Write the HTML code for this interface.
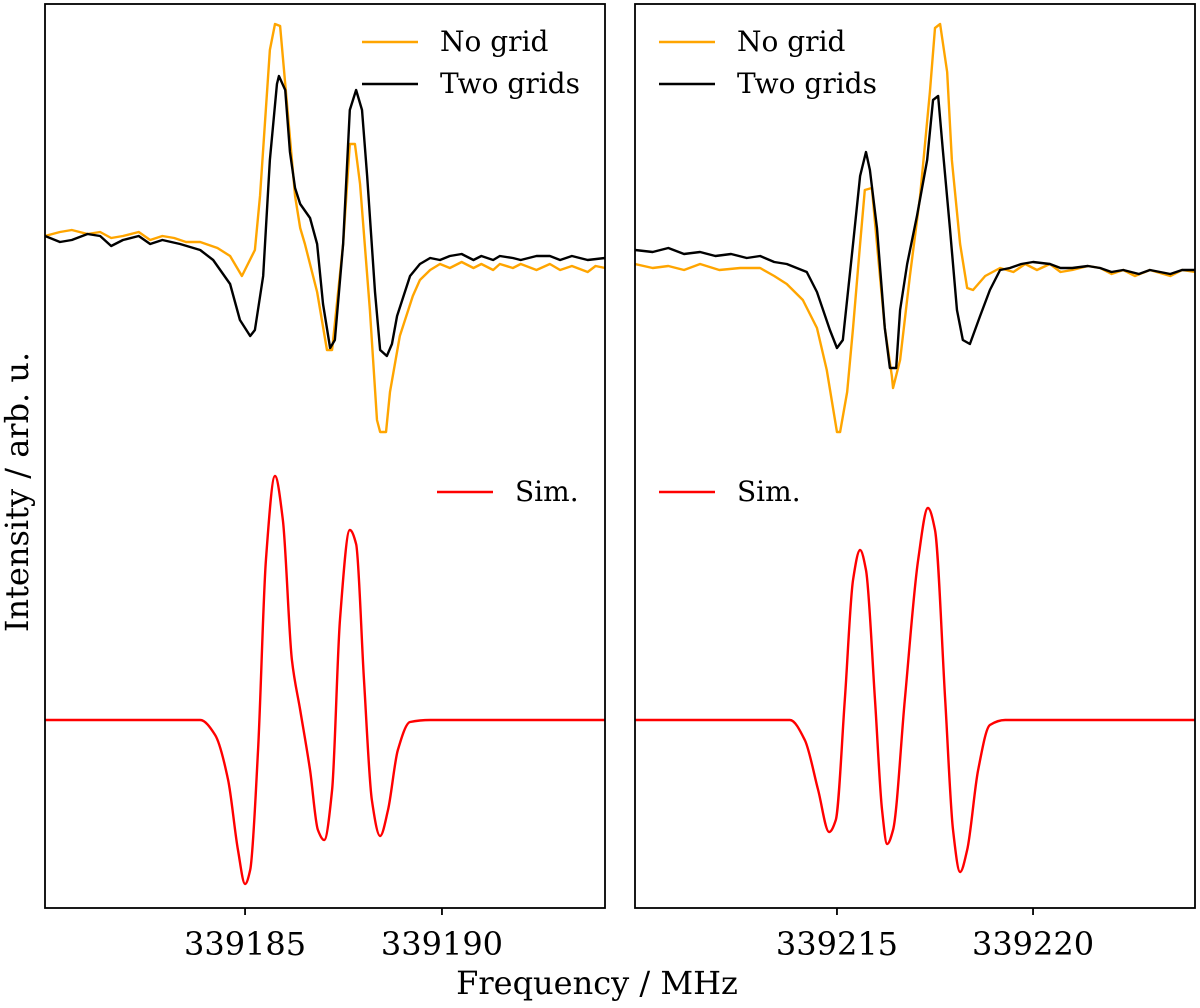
<!DOCTYPE html>
<html><head><meta charset="utf-8">
<style>
html,body{margin:0;padding:0;background:#fff;}
svg text{font-family:"DejaVu Serif","Liberation Serif",serif;fill:#000;}
</style></head>
<body>
<svg id="chart" width="1200" height="1003" viewBox="0 0 1200 1003" xmlns="http://www.w3.org/2000/svg">
<text x="0" y="0" font-size="32" text-anchor="middle" transform="translate(28,492) rotate(-90)">Intensity / arb. u.</text>
<text x="597" y="994" font-size="32" text-anchor="middle">Frequency / MHz</text>
<g id="panels"></g>
</svg>
<script>
// ---- data ----
const leftTicks = [339185, 339190];
const rightTicks = [339215, 339220];
const leftDomain = [339179.92, 339194.14];
const rightDomain = [339209.85, 339224.13];
const yDomain = [-47, 179];

const leftOrangeF = [339179.92,339180.3,339180.6,339181.0,339181.32,339181.6,339181.9,339182.3,339182.59,339182.9,339183.2,339183.5,339183.86,339184.3,339184.62,339184.92,339185.25,339185.38,339185.63,339185.76,339185.89,339186.02,339186.27,339186.40,339186.52,339186.83,339187.08,339187.21,339187.49,339187.66,339187.79,339187.92,339188.17,339188.35,339188.43,339188.58,339188.68,339188.93,339189.26,339189.44,339189.7,339189.95,339190.2,339190.5,339190.8,339191.0,339191.3,339191.47,339191.8,339192.0,339192.4,339192.74,339193.0,339193.3,339193.7,339193.9,339194.14];
const leftOrangeI = [121,122,122.5,121.5,122,120.5,121,122,120,121,120.5,119.5,119.5,118,116,111,117.5,131,167.5,174,173.5,159,131,123,119,107,92.5,92.5,119,144,144,134,102.5,75,72,72,82,96,106,110,112.5,114,113,114.5,113,114,112.5,114,113,114,112.5,114,112.5,113.5,112,113.5,113];

const leftBlackF = [339179.92,339180.3,339180.6,339181.0,339181.32,339181.6,339181.9,339182.3,339182.59,339182.9,339183.35,339183.86,339184.19,339184.62,339184.87,339185.13,339185.25,339185.46,339185.63,339185.81,339185.86,339186.02,339186.14,339186.27,339186.40,339186.65,339186.83,339186.98,339187.16,339187.28,339187.49,339187.66,339187.82,339187.97,339188.10,339188.30,339188.43,339188.60,339188.73,339188.86,339189.19,339189.44,339189.7,339189.95,339190.2,339190.5,339190.8,339191.0,339191.3,339191.47,339191.8,339192.0,339192.4,339192.74,339193.0,339193.3,339193.7,339194.14];
const leftBlackI = [121,119.5,120,121.5,121,118.5,120,121,119,120,119,117.5,115,109,100,96,97.5,111,140,159,161,157.5,142,133,129,125.5,119,104,93,95,119,152.5,157.5,152.5,136,107,92.5,91,94,101,111,114,115.5,115,116,116.5,115,116,115,116,115.5,115,116,116,115,116,115,115.5];

const rightOrangeF = [339209.85,339210.3,339210.7,339211.1,339211.51,339212.0,339212.53,339213.04,339213.4,339213.72,339214.13,339214.49,339214.74,339215.00,339215.08,339215.26,339215.41,339215.59,339215.71,339215.89,339216.02,339216.22,339216.40,339216.43,339216.61,339216.86,339217.12,339217.37,339217.50,339217.63,339217.81,339217.93,339218.14,339218.32,339218.47,339218.78,339219.16,339219.5,339219.8,339220.1,339220.43,339220.7,339221.0,339221.4,339221.71,339222.0,339222.3,339222.6,339222.98,339223.5,339223.8,339224.13];
const rightOrangeI = [114,113,113.5,112.5,114,112.5,113,113,111,109,105,98,87.5,72,72,82,98,119,132.5,133,119,98,86,83,90,111,131,157,173,174,162,140,119,108,107.5,111,113,112,114,112.5,114,112,112.5,113.5,113,111.5,112.5,111,112.5,111,112.5,112];

const rightBlackF = [339209.85,339210.3,339210.7,339211.1,339211.51,339211.9,339212.3,339212.7,339213.04,339213.4,339213.72,339214.23,339214.49,339214.82,339215.00,339215.15,339215.41,339215.59,339215.74,339215.84,339216.02,339216.22,339216.35,339216.51,339216.61,339216.79,339217.04,339217.30,339217.45,339217.58,339217.70,339217.88,339218.06,339218.21,339218.39,339218.65,339218.90,339219.16,339219.41,339219.7,339220.0,339220.43,339220.7,339221.0,339221.4,339221.71,339222.0,339222.3,339222.7,339222.98,339223.5,339223.8,339224.13];
const rightBlackI = [117.5,117,118,116.5,117,116,116.5,115.5,116,114.5,114,112,107,97.5,93,95,119,136,142,137.5,123,98,88,88,102.5,114,126,140,155,156,142.5,123,102.5,95,94,101,107.5,112.5,113,114,114.5,114,113,113,113.5,113,112,112.5,111.5,112.5,111.5,112.5,112.5];

const leftSimF = [339179.92,339183.86,339184.24,339184.57,339184.82,339185.00,339185.13,339185.33,339185.53,339185.76,339185.96,339186.19,339186.40,339186.65,339186.85,339187.01,339187.21,339187.41,339187.66,339187.82,339188.02,339188.22,339188.43,339188.63,339188.88,339189.19,339189.70,339194.14];
const leftSimI = [0,0,-3.75,-15,-32.5,-41,-37.5,-7.5,40,61,50,15,2.5,-12.5,-27.5,-30,-17.5,25,47.5,44,10,-20,-29,-22.5,-7.5,-0.5,0,0];

const rightSimF = [339209.85,339213.80,339214.18,339214.52,339214.80,339214.97,339215.20,339215.41,339215.59,339215.74,339215.97,339216.15,339216.28,339216.43,339216.73,339217.07,339217.32,339217.50,339217.76,339217.96,339218.14,339218.32,339218.60,339218.90,339219.29,339224.13];
const rightSimI = [0,0,-5,-17.5,-28,-25,5,35,42.5,37.5,5,-22.5,-31,-27.5,5,40,53,47.5,5,-27.5,-38,-32.5,-12.5,-1.25,0,0];

// ---- drawing ----
const NS = "http://www.w3.org/2000/svg";
const root = document.getElementById('panels');
const PT = 4, PB = 908;
function yScale(v){ return PB - (v - yDomain[0]) / (yDomain[1] - yDomain[0]) * (PB - PT); }
function mk(tag, attrs){ const e = document.createElementNS(NS, tag); for (const k in attrs) e.setAttribute(k, attrs[k]); return e; }
function linePath(fs, is, xs){ return fs.map((f,i)=>(i?'L':'M')+xs(f).toFixed(2)+','+yScale(is[i]).toFixed(2)).join(''); }
// monotone cubic (Fritsch-Carlson) in x
function smoothPath(fs, is, xs){
  const X = fs.map(xs), Y = is.map(yScale), n = X.length;
  const d = [], m = new Array(n);
  for (let i=0;i<n-1;i++) d.push((Y[i+1]-Y[i])/(X[i+1]-X[i]));
  m[0]=d[0]; m[n-1]=d[n-2];
  for (let i=1;i<n-1;i++){
    if (d[i-1]*d[i] <= 0) m[i]=0;
    else { const h0=X[i]-X[i-1], h1=X[i+1]-X[i]; const w1=2*h1+h0, w2=h1+2*h0; m[i]=(w1+w2)/(w1/d[i-1]+w2/d[i]); }
  }
  let p = 'M'+X[0].toFixed(2)+','+Y[0].toFixed(2);
  for (let i=0;i<n-1;i++){
    const h=(X[i+1]-X[i])/3;
    p += 'C'+(X[i]+h).toFixed(2)+','+(Y[i]+m[i]*h).toFixed(2)+' '+(X[i+1]-h).toFixed(2)+','+(Y[i+1]-m[i+1]*h).toFixed(2)+' '+X[i+1].toFixed(2)+','+Y[i+1].toFixed(2);
  }
  return p;
}

function panel(side, x0, x1, domain, ticks, orF, orI, bkF, bkI, smF, smI, legX){
  const xs = f => x0 + (f - domain[0]) / (domain[1] - domain[0]) * (x1 - x0);
  const g = mk('g', {});
  
  
  root.appendChild(g);
  const clipId = 'clip-' + side;
  const cp = mk('clipPath', {id: clipId});
  cp.appendChild(mk('rect', {x: x0, y: PT, width: x1-x0, height: PB-PT}));
  g.appendChild(cp);
  const plots = mk('g', {'clip-path': 'url(#'+clipId+')'});
  g.appendChild(plots);

  const o = mk('path', {d: linePath(orF, orI, xs), fill:'none', stroke:'#ffa500', 'stroke-width':2.4, 'stroke-linejoin':'round'});
  
  
  plots.appendChild(o);
  const b = mk('path', {d: linePath(bkF, bkI, xs), fill:'none', stroke:'#000', 'stroke-width':2.4, 'stroke-linejoin':'round'});
  
  
  plots.appendChild(b);
  const s = mk('path', {d: smoothPath(smF, smI, xs), fill:'none', stroke:'#ff0000', 'stroke-width':2.4});
  
  
  plots.appendChild(s);

  const frame = mk('rect', {x: x0, y: PT, width: x1-x0, height: PB-PT, fill:'none', stroke:'#000', 'stroke-width':1.8});
  
  
  g.appendChild(frame);

  ticks.forEach(t => {
    const x = xs(t);
    const tk = mk('line', {x1:x, x2:x, y1:PB, y2:PB+7, stroke:'#000', 'stroke-width':1.8});
    
    
    g.appendChild(tk);
    const tl = mk('text', {x:x, y:955, 'font-size':32, 'text-anchor':'middle'});
    tl.textContent = String(t);
    
    
    g.appendChild(tl);
  });

  const legs = [[legX, 42, '#ffa500', 'No grid', 'legend-no-grid'], [legX, 84, '#000', 'Two grids', 'legend-two-grids'], [legX + (side==='left'?75:0), 492, '#ff0000', 'Sim.', 'legend-sim']];
  legs.forEach(l => {
    const lg = mk('g', {});
    
    
    lg.appendChild(mk('line', {x1:l[0], x2:l[0]+56, y1:l[1], y2:l[1], stroke:l[2], 'stroke-width':2.4}));
    const t = mk('text', {x:l[0]+78, y:l[1]+9, 'font-size':28});
    t.textContent = l[3];
    lg.appendChild(t);
    g.appendChild(lg);
  });
}
panel('left', 45, 605, leftDomain, leftTicks, leftOrangeF, leftOrangeI, leftBlackF, leftBlackI, leftSimF, leftSimI, 362);
panel('right', 635, 1195, rightDomain, rightTicks, rightOrangeF, rightOrangeI, rightBlackF, rightBlackI, rightSimF, rightSimI, 659);
</script>
</body></html>
